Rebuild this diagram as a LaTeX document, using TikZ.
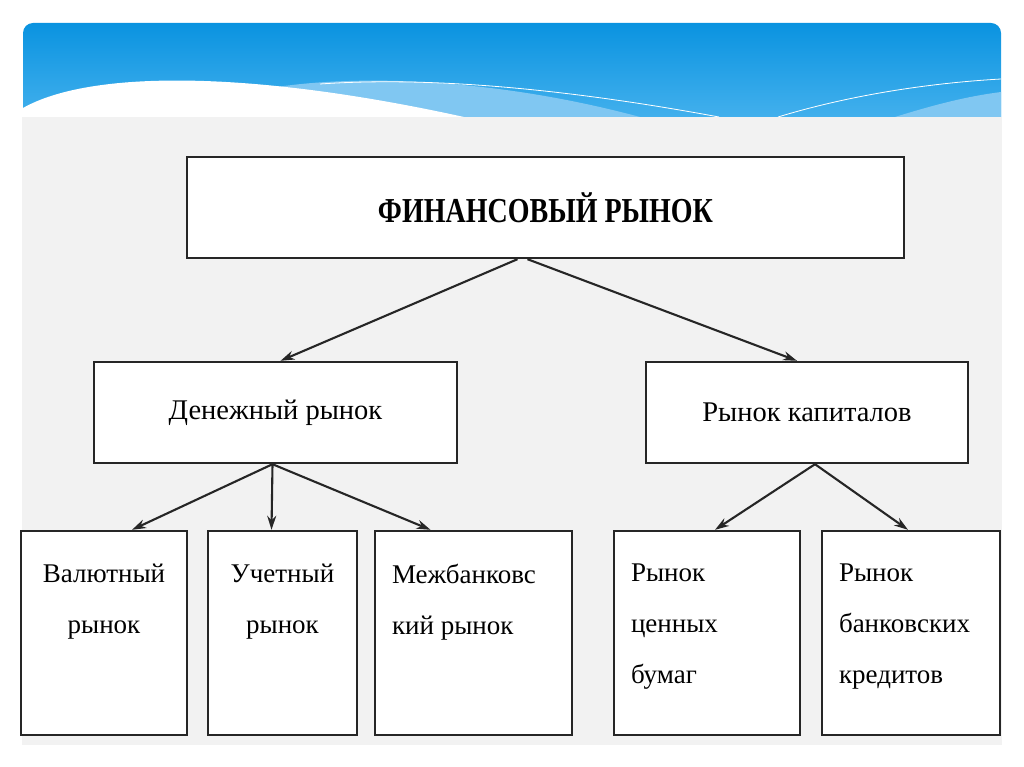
\documentclass[tikz,border=0pt]{standalone}
\usepackage{graphicx}
\usepackage{fontspec}
\setmainfont{LiberationSerif}[Extension=.ttf,UprightFont=*-Regular,BoldFont=*-Bold]
\usetikzlibrary{arrows.meta,positioning}

\definecolor{bannerTop}{RGB}{10,147,224}
\definecolor{bannerBot}{RGB}{80,183,240}
\definecolor{waveBlue}{RGB}{128,199,242}

\begin{document}
\begin{tikzpicture}[x=1pt,y=-1pt,
    box/.style={draw=black!85,line width=2.4pt,fill=white,inner sep=0pt,minimum height=101pt},
    leaf/.style={box,minimum height=204pt},
    mid/.style={box,font=\fontsize{28.5}{34}\selectfont},
    lbl/.style={inner sep=0pt,font=\fontsize{27}{51}\selectfont},
    >={Stealth[length=14pt,width=9pt]}]
  \useasboundingbox (0,0) rectangle (1024,767);
  % slide header
  \shade[top color=bannerTop,bottom color=bannerBot,rounded corners=10pt] (23,23) rectangle (1001,140);
  \begin{scope}
    \clip (23,23) rectangle (1001,117);
    \fill[waveBlue] (250,92) .. controls (330,74) and (480,74) .. (640,117) -- (250,117) -- cycle;
    \fill[waveBlue] (895,117) .. controls (940,103) and (970,96) .. (1001,92) -- (1001,117) -- cycle;
    \draw[white,line width=0.8pt] (320,84) .. controls (450,75) and (600,95) .. (719,117);
    \draw[white,line width=0.8pt] (778,117) .. controls (850,95) and (930,83) .. (1001,79);
    \fill[white] (23,108) .. controls (90,70) and (250,70) .. (464,117) -- (23,117) -- cycle;
  \end{scope}
  \fill[black!5] (22,117) rectangle (1002,745);

  \node[box,minimum width=717pt] (fin) at (545.5,207.5)
    {\scalebox{0.8}[1]{\fontsize{35}{40}\selectfont\bfseries ФИНАНСОВЫЙ РЫНОК}};
  \node[mid,minimum width=363pt] (money) at (275.5,412.5) {Денежный рынок};
  \node[mid,minimum width=322pt] (capital) at (807,412.5) {Рынок капиталов};

  \node[leaf,minimum width=166pt] (val) at (104,633) {};
  \node[leaf,minimum width=149pt,right=18.6pt of val] (uch) {};
  \node[leaf,minimum width=197pt,right=15.6pt of uch] (mezh) {};
  \node[leaf,minimum width=186pt,right=39.6pt of mezh] (cen) {};
  \node[leaf,minimum width=178pt,right=19.6pt of cen] (bank) {};

  \node[lbl,align=center,below=34pt of val.north] (valT) {Валютный\\рынок};
  \node[lbl,align=center,below=34pt of uch.north] (uchT) {Учетный\\рынок};
  \node[lbl,align=left,below right=34pt and 18pt of mezh.north west] (mezhT) {Межбанковс\\кий рынок};
  \node[lbl,align=left,below right=34pt and 18pt of cen.north west] (cenT) {Рынок\\ценных\\бумаг};
  \node[lbl,align=left,below right=34pt and 18pt of bank.north west] (bankT) {Рынок\\банковских\\кредитов};

  \begin{scope}[line width=2.1pt,black!85]
    \draw[->] ([xshift=-28pt]fin.south) -- ([xshift=5pt]money.north);
    \draw[->] ([xshift=-18pt]fin.south) -- ([xshift=-10pt]capital.north);
    \draw[->] ([xshift=-3pt]money.south) -- ([xshift=28pt]val.north);
    \draw[->] ([xshift=-3pt]money.south) -- ([xshift=-11pt]uch.north);
    \draw[->] ([xshift=-3pt]money.south) -- ([xshift=-43pt]mezh.north);
    \draw[->] ([xshift=8pt]capital.south) -- ([xshift=8pt]cen.north);
    \draw[->] ([xshift=8pt]capital.south) -- ([xshift=-3pt]bank.north);
  \end{scope}
\end{tikzpicture}
\end{document}
